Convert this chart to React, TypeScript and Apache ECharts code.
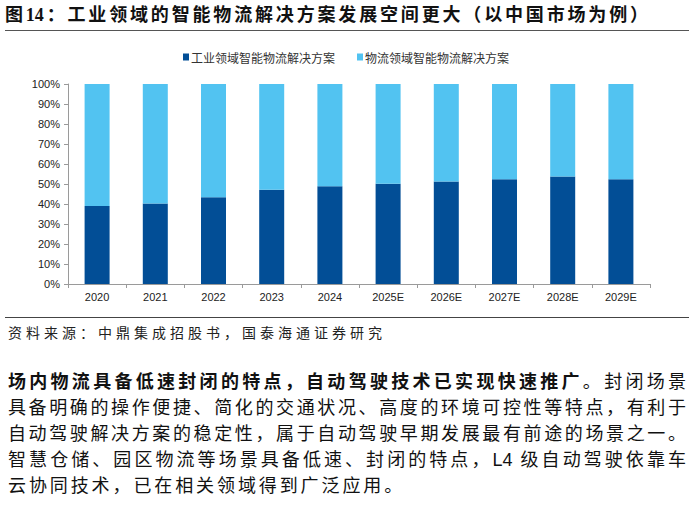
import React, { useEffect, useRef } from "react";
import * as echarts from "echarts";

const years = ["2020", "2021", "2022", "2023", "2024", "2025E", "2026E", "2027E", "2028E", "2029E"];
const industrial = [39.0, 40.2, 43.4, 47.1, 48.9, 50.1, 51.3, 52.4, 53.7, 52.4];
const logistics = [61.0, 59.8, 56.6, 52.9, 51.1, 49.9, 48.7, 47.6, 46.3, 47.6];
const seriesNames = ["工业领域智能物流解决方案", "物流领域智能物流解决方案"];
const colors = ["#024E96", "#52C3F1"];

const titleText = "图14：工业领域的智能物流解决方案发展空间更大（以中国市场为例）";
const sourceText = "资料来源：中鼎集成招股书，国泰海通证券研究";
const paraBold = "场内物流具备低速封闭的特点，自动驾驶技术已实现快速推广";
const paraLines = [
  "。封闭场景",
  "具备明确的操作便捷、简化的交通状况、高度的环境可控性等特点，有利于",
  "自动驾驶解决方案的稳定性，属于自动驾驶早期发展最有前途的场景之一。",
  "智慧仓储、园区物流等场景具备低速、封闭的特点，L4 级自动驾驶依靠车",
  "云协同技术，已在相关领域得到广泛应用。",
];

const cjk = "'Noto Sans CJK SC', sans-serif";

export default function App() {
  const ref = useRef<HTMLDivElement>(null);
  useEffect(() => {
    if (!ref.current) return;
    const chart = echarts.init(ref.current, undefined, { renderer: "svg" });
    chart.setOption({
      animation: false,
      legend: {
        data: seriesNames,
        left: "center",
        top: 46,
        icon: "rect",
        itemWidth: 6,
        itemHeight: 7,
        itemGap: 22,
        textStyle: { fontFamily: cjk, fontSize: 12, color: "#333", padding: [0, 0, 0, -3] },
      },
      grid: { left: 68, right: 42, top: 84, bottom: 26 },
      xAxis: {
        type: "category",
        data: years,
        axisLine: { lineStyle: { color: "#9a9a9a", width: 1 } },
        axisTick: { show: true, length: 4, lineStyle: { color: "#9a9a9a" } },
        axisLabel: { fontFamily: "'Liberation Sans', Arial, sans-serif", fontSize: 11, color: "#222", margin: 7 },
      },
      yAxis: {
        type: "value",
        min: 0,
        max: 100,
        interval: 10,
        axisLine: { show: true, lineStyle: { color: "#9a9a9a", width: 1 } },
        axisTick: { show: true, length: 4, lineStyle: { color: "#9a9a9a" } },
        splitLine: { show: false },
        axisLabel: {
          formatter: "{value}%",
          fontFamily: "'Liberation Sans', Arial, sans-serif",
          fontSize: 11,
          color: "#222",
          margin: 8,
        },
      },
      series: [
        {
          name: seriesNames[0],
          type: "bar",
          stack: "total",
          data: industrial,
          barWidth: 25,
          itemStyle: { color: colors[0] },
        },
        {
          name: seriesNames[1],
          type: "bar",
          stack: "total",
          data: logistics,
          barWidth: 25,
          itemStyle: { color: colors[1] },
        },
      ],
    });
    return () => chart.dispose();
  }, []);

  const justify: React.CSSProperties = { textAlign: "justify", textAlignLast: "justify", whiteSpace: "nowrap" };

  return (
    <div style={{ position: "absolute", left: 0, top: 0, width: 692, height: 505, background: "#fff", overflow: "hidden" }}>
      <div
        style={{
          position: "absolute",
          left: 5,
          top: 3,
          width: 643,
          fontFamily: "'Liberation Serif', " + cjk,
          fontWeight: "bold",
          fontSize: 18,
          lineHeight: "24px",
          color: "#111",
          ...justify,
        }}
      >
        {titleText}
      </div>
      <div style={{ position: "absolute", left: 5, top: 30, width: 684, height: 0, borderTop: "1.5px solid #555" }} />
      <div ref={ref} style={{ position: "absolute", left: 0, top: 0, width: 692, height: 310 }} />
      <div style={{ position: "absolute", left: 5, top: 317, width: 684, height: 0, borderTop: "1px solid #444" }} />
      <div
        style={{
          position: "absolute",
          left: 8,
          top: 322,
          fontFamily: cjk,
          fontSize: 14,
          letterSpacing: "4px",
          lineHeight: "20px",
          color: "#222",
          whiteSpace: "nowrap",
        }}
      >
        {sourceText}
      </div>
      <div
        style={{
          position: "absolute",
          left: 8,
          top: 369,
          width: 678,
          fontFamily: "'Liberation Sans', " + cjk,
          fontSize: 18,
          lineHeight: "26px",
          color: "#111",
        }}
      >
        <div style={justify}>
          <span style={{ fontWeight: "bold" }}>{paraBold}</span>
          {paraLines[0]}
        </div>
        <div style={justify}>{paraLines[1]}</div>
        <div style={justify}>{paraLines[2]}</div>
        <div style={justify}>{paraLines[3]}</div>
        <div style={{ whiteSpace: "nowrap", letterSpacing: "2.9px" }}>{paraLines[4]}</div>
      </div>
    </div>
  );
}
